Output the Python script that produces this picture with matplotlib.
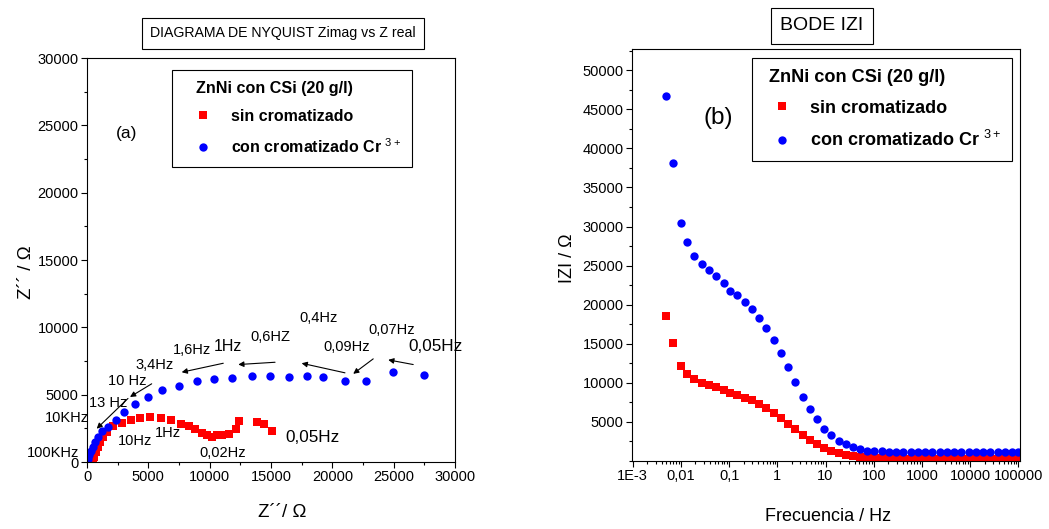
import matplotlib
matplotlib.use('Agg')
import matplotlib.pyplot as plt
from matplotlib.ticker import MultipleLocator, FixedLocator, LogLocator, NullFormatter

plt.rcParams['font.family'] = ['Liberation Sans', 'DejaVu Sans']
plt.rcParams['mathtext.fontset'] = 'custom'
plt.rcParams['mathtext.rm'] = 'Liberation Sans'

# Nyquist: Z' / Z'' (ohm)
NYQ_SIN_X = [510, 600, 730, 870, 1060, 1280, 1600, 2140, 2820, 3560, 4300, 5130,
             6000, 6810, 7660, 8290, 8830, 9370, 9750, 10190, 10570, 10980, 11540,
             12110, 12360, 13880, 14450, 15100]
NYQ_SIN_Y = [120, 370, 740, 1110, 1480, 1850, 2220, 2640, 2900, 3150, 3280, 3330,
             3290, 3140, 2840, 2640, 2420, 2150, 1980, 1850, 1980, 2000, 2100,
             2470, 3040, 2940, 2790, 2300]
NYQ_CON_X = [110, 190, 300, 460, 650, 870, 1200, 1740, 2360, 3040, 3880, 4940,
             6150, 7480, 8940, 10380, 11840, 13450, 14940, 16440, 17900, 19260,
             21030, 22740, 24910, 27465]
NYQ_CON_Y = [250, 500, 790, 1110, 1480, 1850, 2300, 2600, 3140, 3680, 4270, 4815,
             5310, 5680, 6030, 6200, 6270, 6350, 6400, 6325, 6420, 6325,
             5980, 6000, 6667, 6496]

# Bode: frequency (Hz) and |Z| (ohm)
FREQ = [0.0049, 0.0069, 0.0099, 0.0136, 0.0185, 0.0274, 0.0388, 0.0535, 0.077, 0.106,
        0.146, 0.214, 0.303, 0.417, 0.59, 0.84, 1.18, 1.67, 2.36, 3.36,
        4.7, 6.66, 9.45, 13.2, 19.1, 26.6, 37.2, 52, 72.6, 103,
        145, 205, 290, 410, 580, 820, 1160, 1640, 2320, 3280,
        4640, 6560, 9280, 13100, 18600, 26300, 37200, 52600, 74400, 100000]
BODE_SIN = [18540, 15090, 12120, 11100, 10420, 9990, 9650, 9480, 9050, 8710,
            8420, 7990, 7780, 7230, 6720, 6080, 5440, 4710, 4040, 3310,
            2630, 2160, 1610, 1230, 970, 790, 630, 500, 370, 330,
            310, 300, 290, 290, 280, 280, 280, 270, 270, 270,
            270, 270, 260, 260, 260, 260, 260, 260, 260, 260]
BODE_CON = [46720, 38080, 30510, 27990, 26230, 25140, 24380, 23710, 22760, 21760,
            21190, 20320, 19370, 18270, 17000, 15440, 13780, 11950, 10080, 8120,
            6670, 5310, 4110, 3310, 2580, 2160, 1740, 1480, 1300, 1230,
            1190, 1160, 1140, 1130, 1120, 1110, 1100, 1100, 1100, 1100,
            1090, 1090, 1090, 1090, 1080, 1080, 1080, 1080, 1080, 1080]
BODE_TICKS = [1e-3, 1e-2, 1e-1, 1, 10, 100, 1000, 10000, 100000]
BODE_TICKLABELS = ['1E-3', '0,01', '0,1', '1', '10', '100', '1000', '10000', '100000']

# frequency labels on the Nyquist plot: (text, x, y, size)
NYQ_LABELS = [('100KHz', -2770, 670, 10.5), ('10KHz', -1630, 3240, 10.5),
              ('13 Hz', 1710, 4370, 10.5), ('10 Hz', 3310, 6050, 10.5),
              ('3,4Hz', 5540, 7240, 10.5), ('1,6Hz', 8530, 8350, 10.5),
              ('1Hz', 11470, 8590, 11.5), ('0,6HZ', 14970, 9260, 10.5),
              ('0,4Hz', 18900, 10700, 10.5), ('0,09Hz', 21160, 8520, 10.5),
              ('0,07Hz', 24830, 9810, 10.5), ('0,05Hz', 28420, 8590, 12.3),
              ('10Hz', 3910, 1530, 10.5), ('1Hz', 6630, 2150, 10.5),
              ('0,02Hz', 11060, 670, 10.5), ('0,05Hz', 18360, 1850, 12.3)]
# arrows: (tail x, tail y, head x, head y)
NYQ_ARROWS = [(5273, 5807, 3504, 4830), (3341, 4719, 790, 2474),
              (11108, 7333, 7718, 6667), (15330, 7407, 12331, 7237),
              (21030, 6622, 17498, 7333), (23333, 7659, 21703, 6548),
              (26593, 7237, 24556, 7585)]

RED = '#ff0000'
BLUE = '#0000ff'
W, H = 1049, 529


def style_axes(ax):
    for sp in ax.spines.values():
        sp.set_linewidth(0.8)
    ax.tick_params(which='both', direction='out', top=False, right=False,
                   labelsize=10.5, width=0.8, pad=2)
    ax.tick_params(which='major', length=4)
    ax.tick_params(which='minor', length=2.5)


def add_legend(ax, anchor, size, title_size, spacing, hlen, bpad, title_shift):
    leg = ax.legend(title='ZnNi con CSi (20 g/l)', loc='upper left',
                    bbox_to_anchor=anchor, borderaxespad=0, frameon=True,
                    fancybox=False, edgecolor='black', framealpha=1,
                    borderpad=bpad, handlelength=hlen, handletextpad=0.5,
                    labelspacing=spacing, alignment='left',
                    prop={'size': size, 'weight': 'bold'},
                    title_fontproperties={'size': title_size, 'weight': 'bold'})
    leg.get_frame().set_linewidth(0.8)
    # indent the title a little
    leg.get_title().set_x(title_shift)
    return leg


fig = plt.figure(figsize=(W / 100, H / 100), dpi=100)

# --- Nyquist ---
ax1 = fig.add_axes([87 / W, (H - 462) / H, 368 / W, 404 / H])
ax1.plot(NYQ_SIN_X, NYQ_SIN_Y, 's', color=RED, ms=5.5, mew=0, label='sin cromatizado')
ax1.plot(NYQ_CON_X, NYQ_CON_Y, 'o', color=BLUE, ms=6, mew=0,
         label='con cromatizado Cr $^{3+}$')
ax1.set_xlim(0, 30000)
ax1.set_ylim(0, 30000)
ax1.xaxis.set_major_locator(MultipleLocator(5000))
ax1.xaxis.set_minor_locator(MultipleLocator(2500))
ax1.yaxis.set_major_locator(MultipleLocator(5000))
ax1.yaxis.set_minor_locator(MultipleLocator(2500))
style_axes(ax1)
ax1.set_xlabel('Z´´/ Ω', fontsize=13.5)
ax1.set_ylabel('Z´´ / Ω', fontsize=13.5)
ax1.xaxis.set_label_coords(0.53, -0.105)
ax1.yaxis.set_label_coords(-0.141, 0.47)

for txt, x, y, s in NYQ_LABELS:
    ax1.text(x, y, txt, fontsize=s, ha='center', va='center', clip_on=False)
for x0, y0, x1, y1 in NYQ_ARROWS:
    ax1.annotate('', xy=(x1, y1), xytext=(x0, y0),
                 arrowprops=dict(arrowstyle='-|>', lw=0.8, color='black',
                                 mutation_scale=8, shrinkA=0, shrinkB=0))
ax1.text(0.108, 0.813, '(a)', transform=ax1.transAxes, fontsize=12.5,
         ha='center', va='center')
add_legend(ax1, (0.23, 0.970), 11.5, 11.6, 0.8, 2.5, 0.7, 13)

fig.text(283 / W, 1 - 33 / H, 'DIAGRAMA DE NYQUIST Zimag vs Z real', fontsize=10.2,
         ha='center', va='center',
         bbox=dict(boxstyle='square,pad=0.6', fc='white', ec='black', lw=0.8))

# --- Bode |Z| ---
ax2 = fig.add_axes([632 / W, (H - 460.7) / H, 388 / W, 411.4 / H])
ax2.plot(FREQ, BODE_SIN, 's', color=RED, ms=5.5, mew=0, label='sin cromatizado')
ax2.plot(FREQ, BODE_CON, 'o', color=BLUE, ms=6, mew=0,
         label='con cromatizado Cr $^{3+}$')
ax2.set_xscale('log')
ax2.set_xlim(0.97e-3, 1.08e5)
ax2.set_ylim(0, 52700)
ax2.xaxis.set_major_locator(FixedLocator(BODE_TICKS))
ax2.set_xticklabels(BODE_TICKLABELS)
ax2.xaxis.set_minor_locator(LogLocator(base=10, subs=range(2, 10), numticks=20))
ax2.xaxis.set_minor_formatter(NullFormatter())
ax2.yaxis.set_major_locator(FixedLocator(range(5000, 50001, 5000)))
ax2.yaxis.set_minor_locator(MultipleLocator(2500))
style_axes(ax2)
ax2.set_xlabel('Frecuencia / Hz', fontsize=13)
ax2.set_ylabel('IZI / Ω', fontsize=13)
ax2.xaxis.set_label_coords(0.505, -0.115)
ax2.yaxis.set_label_coords(-0.144, 0.493)
ax2.text(0.222, 0.834, '(b)', transform=ax2.transAxes, fontsize=17.5,
         ha='center', va='center')
add_legend(ax2, (0.31, 0.978), 13, 13.1, 0.75, 2.1, 0.6, 6)

fig.text(822 / W, 1 - 26 / H, 'BODE IZI', fontsize=14, ha='center', va='center',
         bbox=dict(boxstyle='square,pad=0.5', fc='white', ec='black', lw=0.8))

fig.savefig('out.png', dpi=100)
